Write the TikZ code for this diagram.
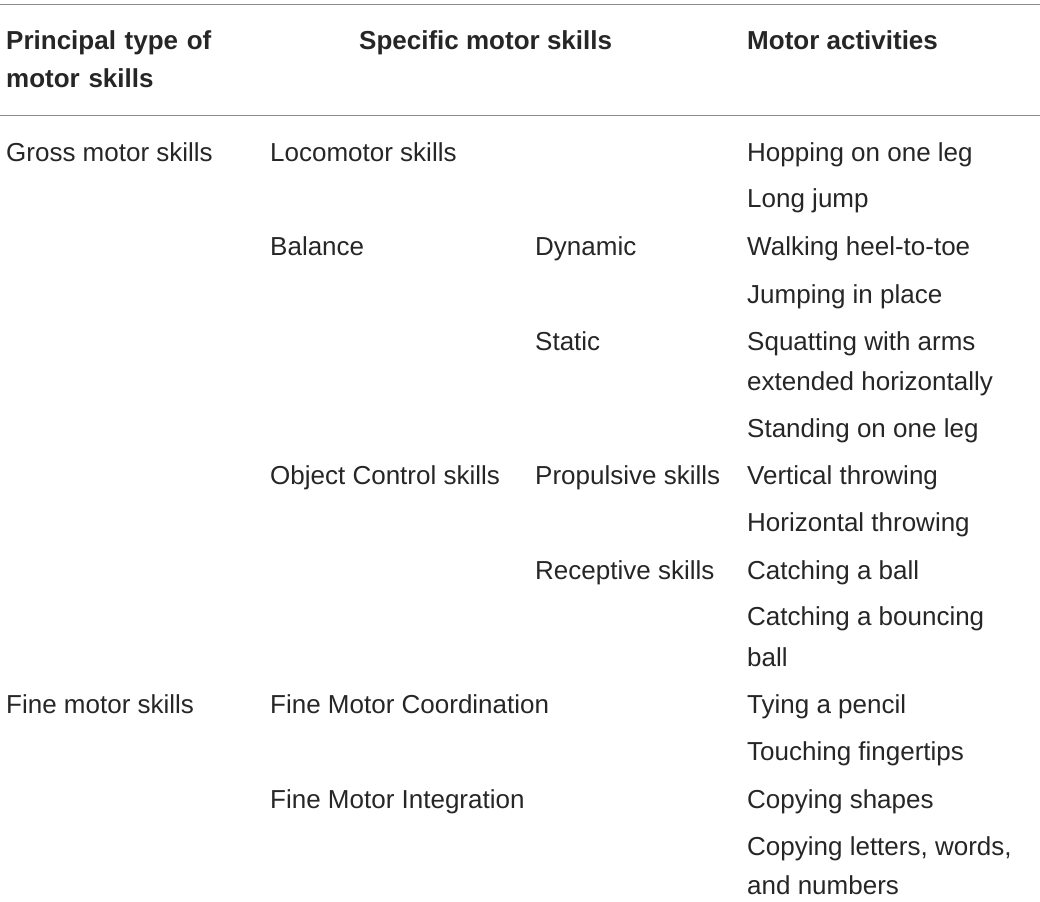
\documentclass[tikz,border=0pt]{standalone}
\usepackage{fontspec}
\setmainfont{Liberation Sans}
\begin{document}
\begin{tikzpicture}[x=1pt,y=-1pt,
  t/.style={anchor=base west,inner sep=0pt,font=\fontsize{26}{30}\selectfont,text=black!85},
  h/.style={t,font=\fontsize{26}{38}\selectfont\bfseries},
  rule/.style={draw=black!45,line width=1pt}]
\useasboundingbox (0,0) rectangle (1040,901);
\coordinate (r1a) at (0,5); \coordinate (r1b) at (1040,5);
\coordinate (r2a) at (0,116); \coordinate (r2b) at (1040,116);
\draw[rule] (r1a) -- (r1b);
\draw[rule] (r2a) -- (r2b);
\node[h,align=left,text width=260pt] (h1) at (6,50) {Principal type of\\motor skills};
\node[h] (h2) at (359,50) {Specific motor skills};
\node[h] (h3) at (747,50) {Motor activities};
\node[t] (a1) at (6,162) {Gross motor skills};
\node[t] (a2) at (6,713) {Fine motor skills};
\node[t] (b1) at (270,162) {Locomotor skills};
\node[t] (b2) at (270,255) {Balance};
\node[t] (b3) at (270,484) {Object Control skills};
\node[t] (b4) at (270,713) {Fine Motor Coordination};
\node[t] (b5) at (270,808) {Fine Motor Integration};
\node[t] (c1) at (535,255) {Dynamic};
\node[t] (c2) at (535,350) {Static};
\node[t] (c3) at (535,484) {Propulsive skills};
\node[t] (c4) at (535,579) {Receptive skills};
\node[t] (d1) at (747,162) {Hopping on one leg};
\node[t] (d2) at (747,208) {Long jump};
\node[t] (d3) at (747,255) {Walking heel-to-toe};
\node[t] (d4) at (747,303) {Jumping in place};
\node[t] (d5) at (747,350) {Squatting with arms};
\node[t] (d5b) at (747,390) {extended horizontally};
\node[t] (d6) at (747,437) {Standing on one leg};
\node[t] (d7) at (747,484) {Vertical throwing};
\node[t] (d8) at (747,531) {Horizontal throwing};
\node[t] (d9) at (747,579) {Catching a ball};
\node[t] (d10) at (747,625) {Catching a bouncing};
\node[t] (d10b) at (747,666) {ball};
\node[t] (d11) at (747,713) {Tying a pencil};
\node[t] (d12) at (747,760) {Touching fingertips};
\node[t] (d13) at (747,808) {Copying shapes};
\node[t] (d14) at (747,855) {Copying letters, words,};
\node[t] (d14b) at (747,894) {and numbers};
\end{tikzpicture}
\end{document}
